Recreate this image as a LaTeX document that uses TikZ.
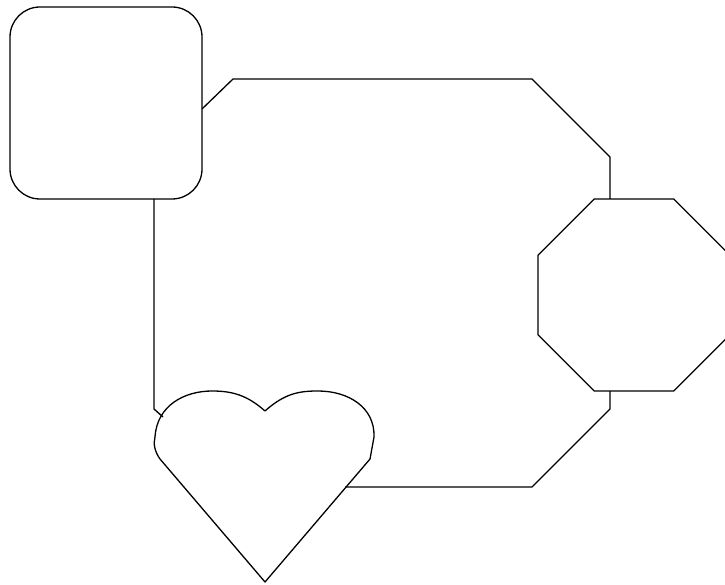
\documentclass[tikz,border=0pt]{standalone}
\usetikzlibrary{shapes.geometric}
\begin{document}
\begin{tikzpicture}[x=1pt,y=-1pt,line width=1.3pt,line join=round,
  shapebox/.style={draw,inner sep=0pt,outer sep=0pt},
  conn/.style={draw}]
\useasboundingbox (0,0) rectangle (725,585);
\clip (0,0) rectangle (725,585);
\node[shapebox,rounded corners=30pt,minimum width=192pt,minimum height=192pt] (sq) at (106,103) {};
\node[shapebox,regular polygon,regular polygon sides=8,minimum size=207.8pt] (oct) at (634,295) {};
\draw (265,411) .. controls (285,393) and (300,391) .. (318,391)
  .. controls (348,391) and (375,407) .. (374,437) -- (370,459) -- (265,582) -- (160,459)
  .. controls (155,452) and (153,444) .. (155,437)
  .. controls (157,405) and (185,391) .. (212,391)
  .. controls (232,391) and (247,395) .. (265,411) -- cycle;
\coordinate (heartL) at (163,417);
\coordinate (heartR) at (345,487);
\coordinate (a1) at (233,79);
\coordinate (a2) at (532,79);
\coordinate (a3) at (610,157);
\coordinate (b1) at (154,409);
\coordinate (c1) at (610,409);
\coordinate (c2) at (532,487);
\draw[conn] ([yshift=-6pt]sq.east) -- (a1) -- (a2) -- (a3) -- ([xshift=-24pt]oct.north);
\draw[conn] ([xshift=48pt]sq.south) -- (b1) -- (heartL);
\draw[conn] ([xshift=-24pt]oct.south) -- (c1) -- (c2) -- (heartR);
\end{tikzpicture}
\end{document}
